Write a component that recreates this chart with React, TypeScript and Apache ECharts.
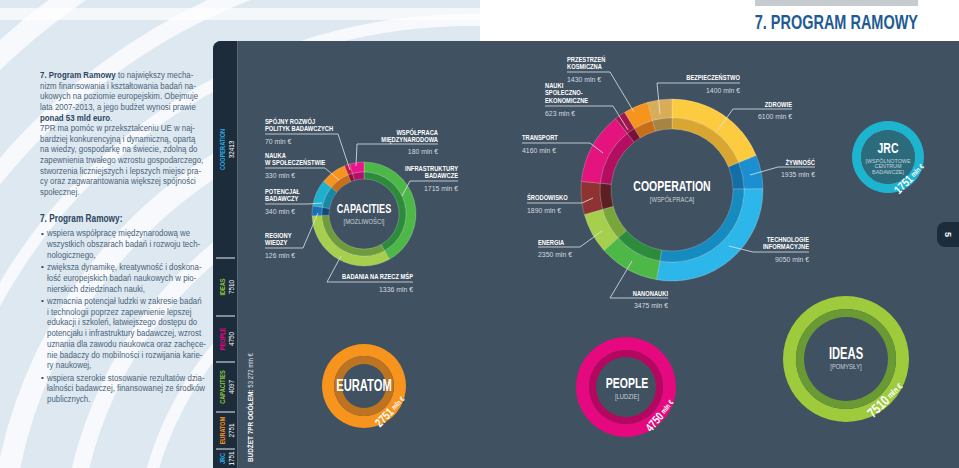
import React, { useEffect, useRef } from "react";
import * as echarts from "echarts";

const FONT = "'Liberation Sans', Arial, Helvetica, sans-serif";

// ---------- DATA ----------
const programNames = ["COOPERATION", "IDEAS", "PEOPLE", "CAPACITIES", "EURATOM", "JRC"];
const programValues = [32413, 7510, 4750, 4097, 2751, 1751];
const programSubtitles = ["[WSPÓŁPRACA]", "[POMYSŁY]", "[LUDZIE]", "[MOŻLIWOŚCI]", "", "[WSPÓLNOTOWE\nCENTRUM\nBADAWCZE]"];
const totalBudget = "53 272";

const coopNames = [
  "ZDROWIE", "ŻYWNOŚĆ", "TECHNOLOGIE\nINFORMACYJNE", "NANONAUKI", "ENERGIA",
  "ŚRODOWISKO", "TRANSPORT", "NAUKI\nSPOŁECZNO-\nEKONOMICZNE", "PRZESTRZEŃ\nKOSMICZNA", "BEZPIECZEŃSTWO",
];
const coopValues = [6100, 1935, 9050, 3475, 2350, 1890, 4160, 623, 1430, 1400];

const capNames = [
  "INFRASTRUKTURY\nBADAWCZE", "BADANIA NA RZECZ MŚP", "REGIONY\nWIEDZY", "POTENCJAŁ\nBADAWCZY",
  "NAUKA\nW SPOŁECZEŃSTWIE", "SPÓJNY ROZWÓJ\nPOLITYK BADAWCZYCH", "WSPÓŁPRACA\nMIĘDZYNARODOWA",
];
const capValues = [1715, 1336, 126, 340, 330, 70, 180];

// ---------- STYLE ----------
const coopLight = ["#fdcb3f", "#1c8fd0", "#2db6ea", "#4db848", "#a5cf4c", "#8e3232", "#e5137e", "#a0174f", "#f7941d", "#d9ad57"];
const coopDark = ["#d9a731", "#136fa6", "#168bbf", "#2d8c3c", "#78a63a", "#5e1f22", "#b30e62", "#78103c", "#c86d1a", "#a78441"];
const capLight = ["#4db848", "#a5cf4c", "#1b6fb3", "#1fafcf", "#f7941d", "#c4144f", "#e8168a"];
const capDark = ["#2d8c3c", "#6e9c3b", "#0f4a78", "#1789a5", "#c86d1a", "#8a0f3a", "#b4106a"];
const progColors = ["#29abe2", "#8dc63f", "#ec008c", "#8dc63f", "#f7941d", "#29abe2"];

const PANEL = "#405161";
const STRIP = "#1c2c3b";

type LabelPos = { i: number; x: number; y: number; align: "left" | "right"; ul: [number, number]; uy: number; end: [number, number] };

const capLabelPos: LabelPos[] = [
  { i: 5, x: 265, y: 121, align: "left", ul: [265, 338], uy: 134, end: [350, 170] },
  { i: 4, x: 265, y: 155, align: "left", ul: [265, 325], uy: 168, end: [339, 180] },
  { i: 3, x: 265, y: 191, align: "left", ul: [265, 308], uy: 204, end: [322, 203] },
  { i: 2, x: 265, y: 235, align: "left", ul: [265, 303], uy: 248, end: [318, 213] },
  { i: 6, x: 438, y: 132, align: "right", ul: [357, 438], uy: 144, end: [356, 166] },
  { i: 0, x: 458, y: 168, align: "right", ul: [410, 458], uy: 181, end: [402, 196] },
  { i: 1, x: 413, y: 276, align: "right", ul: [327, 413], uy: 282, end: [341, 256] },
];
const coopLabelPos: LabelPos[] = [
  { i: 8, x: 567, y: 59, align: "left", ul: [567, 610], uy: 72, end: [634, 112] },
  { i: 7, x: 545, y: 85, align: "left", ul: [545, 613], uy: 106, end: [628, 130] },
  { i: 9, x: 740, y: 77, align: "right", ul: [657, 740], uy: 83, end: [660, 114] },
  { i: 0, x: 792, y: 104, align: "right", ul: [733, 792], uy: 109, end: [718, 130] },
  { i: 1, x: 815, y: 162, align: "right", ul: [778, 815], uy: 167, end: [750, 175] },
  { i: 2, x: 809, y: 239, align: "right", ul: [753, 809], uy: 252, end: [729, 246] },
  { i: 3, x: 668, y: 293, align: "right", ul: [610, 668], uy: 298, end: [632, 261] },
  { i: 4, x: 538, y: 242, align: "left", ul: [538, 580], uy: 247, end: [602, 231] },
  { i: 5, x: 527, y: 197, align: "left", ul: [527, 582], uy: 203, end: [593, 198] },
  { i: 6, x: 522, y: 137, align: "left", ul: [522, 590], uy: 143, end: [603, 153] },
];

const introLines = [
  "{b|7. Program Ramowy} to największy mecha-",
  "nizm finansowania i kształtowania badań na-",
  "ukowych na poziomie europejskim. Obejmuje",
  "lata 2007-2013, a jego budżet wynosi prawie",
  "{b|ponad 53 mld euro}.",
];
const goalLines = [
  "7PR ma pomóc w przekształceniu UE w naj-",
  "bardziej konkurencyjną i dynamiczną, opartą",
  "na wiedzy, gospodarkę na świecie, zdolną do",
  "zapewnienia trwałego wzrostu gospodarczego,",
  "stworzenia liczniejszych i lepszych miejsc pra-",
  "cy oraz zagwarantowania większej spójności",
  "społecznej.",
];
const bullets = [
  ["wspiera współpracę międzynarodową we", "wszystkich obszarach badań i rozwoju tech-", "nologicznego,"],
  ["zwiększa dynamikę, kreatywność i doskona-", "łość europejskich badań naukowych w pio-", "nierskich dziedzinach nauki,"],
  ["wzmacnia potencjał ludzki w zakresie badań", "i technologii poprzez zapewnienie lepszej", "edukacji i szkoleń, łatwiejszego dostępu do", "potencjału i infrastruktury badawczej, wzrost", "uznania dla zawodu naukowca oraz zachęce-", "nie badaczy do mobilności i rozwijania karie-", "ry naukowej,"],
  ["wspiera szerokie stosowanie rezultatów dzia-", "łalności badawczej, finansowanej ze środków", "publicznych."],
];

function txt(x: number, y: number, text: string, o: any = {}) {
  return {
    type: "text", x, y, z: o.z ?? 50, rotation: o.rot ?? 0, scaleX: o.sx ?? 1, silent: true,
    style: {
      text, fill: o.fill ?? "#ffffff", fontFamily: o.ff ?? FONT, fontSize: o.fs ?? 8,
      fontWeight: o.fw ?? "normal", align: o.align ?? "left", verticalAlign: o.va ?? "middle",
      lineHeight: o.lh, rich: o.rich,
    },
  };
}

function ring(id: string, center: number[], rIn: number, rMid: number, rOut: number, values: number[], names: string[], light: string[], dark: string[]) {
  const single = values.length === 1;
  const mk = (cols: string[]) => values.map((v, i) => ({ value: v, name: names[i], itemStyle: { color: cols[i] } }));
  const base: any = {
    type: "pie", center, startAngle: 90, clockwise: true, silent: true, label: { show: false }, labelLine: { show: false },
    emphasis: { disabled: true }, avoidLabelOverlap: false, minAngle: 0, z: 5,
    itemStyle: { borderColor: "rgba(255,255,255,0.35)", borderWidth: single ? 0 : 0.6 },
  };
  return [
    { ...base, id: id + "o", radius: [rMid, rOut], data: mk(light) },
    { ...base, id: id + "i", radius: [rIn, rMid], data: mk(dark) },
  ];
}

function ticks(center: number[], r: number, len: number) {
  const n = Math.round(r * 0.95);
  return {
    type: "gauge", center, radius: r, startAngle: 90, endAngle: -270, min: 0, max: n, splitNumber: n, silent: true, z: 3,
    axisLine: { show: false }, progress: { show: false }, pointer: { show: false }, anchor: { show: false },
    title: { show: false }, detail: { show: false }, axisLabel: { show: false },
    splitLine: { show: true, length: len, distance: 0, lineStyle: { color: "#b3bdc6", width: 0.6 } },
    axisTick: { show: true, splitNumber: 3, length: len, distance: 0, lineStyle: { color: "#b3bdc6", width: 0.6 } },
    data: [{ value: 0 }],
  };
}

function segLabels(pos: LabelPos[], names: string[], values: number[]) {
  const out: any[] = [];
  pos.forEach((p) => {
    const lines = names[p.i].split("\n");
    lines.forEach((ln, k) => out.push(txt(p.x, p.y + k * 7.5, ln, { fw: "bold", fs: 8, sx: 0.72, align: p.align })));
    out.push(txt(p.x, p.uy + 7.5, `${values[p.i]} mln €`, { fs: 8, sx: 0.86, fill: "#d3dae0", align: p.align }));
    const near = p.align === "left" ? p.ul[1] : p.ul[0];
    const far = p.align === "left" ? p.ul[0] : p.ul[1];
    out.push({
      type: "polyline", z: 40, silent: true,
      shape: { points: [[far, p.uy], [near, p.uy], p.end] },
      style: { stroke: "#dfe5ea", lineWidth: 0.8, fill: null },
    });
  });
  return out;
}

// value written along a ring: centre of the ring, radius and angle (deg, clockwise below +x)
function valueOnRing(cx: number, cy: number, r: number, deg: number, v: number, fs: number) {
  const a = (deg * Math.PI) / 180;
  return txt(cx + r * Math.cos(a), cy + r * Math.sin(a), `{n|${v}} {u|mln €}`, {
    rot: Math.PI / 2 - a, align: "center", z: 60, sx: 0.78,
    rich: {
      n: { fontFamily: FONT, fontSize: fs, fontWeight: "bold", fill: "#ffffff" },
      u: { fontFamily: FONT, fontSize: fs * 0.62, fontWeight: "bold", fill: "#ffffff" },
    },
  });
}

export default function App() {
  const ref = useRef<HTMLDivElement>(null);
  useEffect(() => {
    if (!ref.current) return;
    const chart = echarts.init(ref.current, undefined, { renderer: "svg" });
    const g: any[] = [];

    // background
    g.push({ type: "rect", z: 0, silent: true, shape: { x: 0, y: 0, width: 959, height: 468 }, style: { fill: "#dde8f1" } });
    g.push({ type: "rect", z: 0, silent: true, shape: { x: 480, y: 0, width: 479, height: 41 }, style: { fill: "#ffffff" } });
    [330, 400, 470, 540, 610, 690, 770].forEach((r, k) => {
      g.push({ type: "arc", z: 1, silent: true, shape: { cx: 470, cy: 560, r, startAngle: Math.PI, endAngle: Math.PI * 1.6 }, style: { stroke: "rgba(255,255,255,0.75)", lineWidth: 12 + (k % 3) * 5, fill: null } });
    });
    g.push({ type: "rect", z: 1, silent: true, shape: { x: 0, y: 8, width: 480, height: 12 }, style: { fill: "rgba(255,255,255,0.7)" } });

    // title
    g.push({ type: "rect", z: 2, silent: true, shape: { x: 755, y: 0, width: 163, height: 6 }, style: { fill: "#c6cbd0" } });
    g.push(txt(918, 22, "7. PROGRAM RAMOWY", { fs: 21, fw: "bold", fill: "#1e5b94", align: "right", sx: 0.69 }));

    // panel
    g.push({ type: "rect", z: 2, silent: true, shape: { x: 213, y: 41, width: 760, height: 440, r: [8, 0, 0, 0] }, style: { fill: PANEL } });
    g.push({ type: "rect", z: 3, silent: true, shape: { x: 213, y: 41, width: 24, height: 440, r: [8, 0, 0, 0] }, style: { fill: STRIP } });
    g.push({ type: "line", z: 3, silent: true, shape: { x1: 237.5, y1: 41, x2: 237.5, y2: 468 }, style: { stroke: "#566778", lineWidth: 1 } });

    // strip labels
    const bounds = [41, 258, 316, 362, 412, 449, 468];
    programNames.forEach((nm, i) => {
      const cy = (bounds[i] + bounds[i + 1]) / 2;
      g.push(txt(222, cy, nm, { rot: Math.PI / 2, align: "center", fw: "bold", fs: 8, sx: 0.7, fill: progColors[i] }));
      g.push(txt(231, cy, String(programValues[i]), { rot: Math.PI / 2, align: "center", fs: 7.5, sx: 0.85, fill: "#ffffff" }));
      if (i > 0) g.push({ type: "line", z: 10, silent: true, shape: { x1: 216, y1: bounds[i], x2: 235, y2: bounds[i] }, style: { stroke: "#e8edf1", lineWidth: 1 } });
    });
    g.push(txt(250, 462, `{b|BUDŻET 7PR OGÓŁEM:} {n|${totalBudget} mln €}`, {
      rot: Math.PI / 2, align: "left", sx: 0.8,
      rich: { b: { fontFamily: FONT, fontSize: 8, fontWeight: "bold", fill: "#fff" }, n: { fontFamily: FONT, fontSize: 7.5, fill: "#e0e6ea" } },
    }));

    // page tab
    g.push({ type: "rect", z: 3, silent: true, shape: { x: 937, y: 222, width: 30, height: 25, r: 8 }, style: { fill: STRIP } });
    g.push(txt(948, 234.5, "5", { rot: -Math.PI / 2, align: "center", fw: "bold", fs: 9 }));

    // left text
    const TC = "#4a6379";
    const SX = 0.83;
    const rich = { b: { fontFamily: FONT, fontSize: 9.5, fontWeight: "bold", fill: "#2c4660" } };
    introLines.forEach((ln, k) => g.push(txt(40, 75 + k * 10.6, ln, { fs: 9.5, fill: TC, rich, z: 20, sx: SX })));
    goalLines.forEach((ln, k) => g.push(txt(40, 128 + k * 10.6, ln, { fs: 9.5, fill: TC, rich, z: 20, sx: SX })));
    g.push(txt(40, 219, "7. Program Ramowy:", { fs: 10, fw: "bold", fill: "#2c4660", z: 20, sx: SX }));
    let yy = 233;
    bullets.forEach((b) => {
      g.push(txt(42.5, yy, "•", { fs: 8, fill: "#2c4660", align: "center", z: 20 }));
      b.forEach((ln) => { g.push(txt(47, yy, ln, { fs: 9.5, fill: TC, z: 20, sx: SX })); yy += 10.7; });
      yy += 1.8;
    });

    // segment labels
    g.push(...segLabels(capLabelPos, capNames, capValues));
    g.push(...segLabels(coopLabelPos, coopNames, coopValues));

    // center labels
    const center = (x: number, y: number, name: string, sub: string, fs: number, sy: number, sfs = 6.5, slh = 7) => {
      g.push(txt(x, y, name, { fs, fw: "bold", align: "center", z: 60, sx: 0.7 }));
      if (sub) g.push(txt(x, sy, sub, { fs: sfs, fill: "#c8d1d8", align: "center", va: "middle", lh: slh, z: 60, sx: 0.9 }));
    };
    center(672, 186, programNames[0], programSubtitles[0], 15, 199);
    center(846, 353, programNames[1], programSubtitles[1], 16, 366);
    center(627, 383, programNames[2], programSubtitles[2], 15, 396);
    center(364, 208, programNames[3], programSubtitles[3], 13, 221);
    center(364, 385, programNames[4], programSubtitles[4], 16, 0);
    center(888, 148, programNames[5], programSubtitles[5], 15, 166, 6, 5.6);

    // values on rings
    g.push(valueOnRing(888, 157, 30, 45, programValues[5], 12));
    g.push(valueOnRing(364, 386, 36, 44, programValues[4], 12));
    g.push(valueOnRing(626, 387, 44, 40, programValues[2], 12));
    g.push(valueOnRing(846, 359, 57, 46, programValues[1], 14));

    const series: any[] = [
      ticks([672, 190], 95, 4), ...ring("coop", [672, 190], 61, 72, 91, coopValues, coopNames, coopLight, coopDark),
      ticks([364, 214], 56, 3.5), ...ring("cap", [364, 214], 35, 42, 52, capValues, capNames, capLight, capDark),
      ticks([888, 157], 40, 3.5), ...ring("jrc", [888, 157], 0, 27, 36, [programValues[5]], [programNames[5]], ["#1cb4cf"], ["#2b6b7c"]),
      ticks([364, 386], 46, 3.5), ...ring("eur", [364, 386], 22, 30, 42, [programValues[4]], [programNames[4]], ["#f7941d"], ["#bd731f"]),
      ticks([626, 387], 55, 4), ...ring("ppl", [626, 387], 30, 37, 50, [programValues[2]], [programNames[2]], ["#e5087e"], ["#b5075f"]),
      ticks([846, 359], 67, 4), ...ring("ideas", [846, 359], 42, 50, 63, [programValues[1]], [programNames[1]], ["#9dcb3c"], ["#6a9a33"]),
    ];

    chart.setOption({ animation: false, graphic: { elements: g }, series });
    return () => chart.dispose();
  }, []);
  return <div ref={ref} style={{ position: "absolute", left: 0, top: 0, width: 959, height: 468 }} />;
}
